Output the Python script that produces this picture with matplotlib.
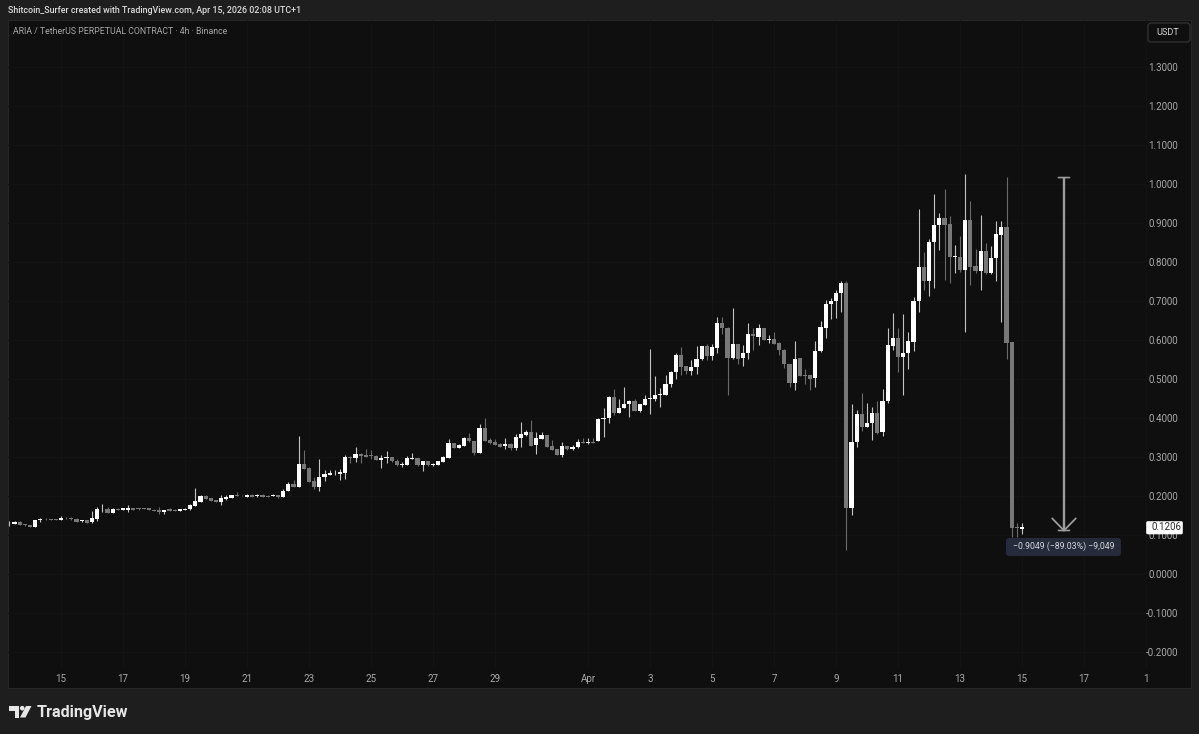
import matplotlib
matplotlib.use('Agg')
import matplotlib.pyplot as plt
import matplotlib.dates as mdates
from matplotlib.patches import FancyBboxPatch, Polygon, Circle, Rectangle
import numpy as np
import pandas as pd

plt.rcParams['font.family'] = ['Roboto', 'DejaVu Sans']

# 4h candles, oldest first
opens = [.1295,.129,.134,.127,.126,.121,.138,.142,.141,.140,.139,.144,.143,.142,.135,.138,.133,.142,.166,.166,
         .156,.167,.164,.164,.169,.169,.169,.168,.165,.163,.159,.167,.165,.162,.165,.166,.175,.185,.201,.194,
         .190,.185,.193,.196,.202,.201,.198,.203,.199,.203,.201,.200,.202,.198,.212,.231,.224,.282,.272,.238,
         .224,.249,.255,.258,.257,.258,.301,.297,.308,.304,.304,.303,.292,.297,.299,.291,.279,.279,.296,.297,
         .280,.289,.279,.280,.287,.297,.336,.323,.329,.350,.341,.309,.375,.343,.338,.334,.328,.334,.322,.350,
         .356,.363,.330,.346,.356,.328,.320,.305,.328,.320,.325,.338,.335,.339,.341,.397,.399,.455,.414,.425,
         .436,.444,.419,.434,.450,.448,.459,.460,.487,.519,.562,.533,.520,.530,.551,.584,.559,.580,.643,.632,
         .553,.590,.553,.566,.615,.608,.630,.601,.603,.593,.575,.538,.489,.553,.509,.509,.502,.572,.631,.692,
         .700,.721,.746,.169,.339,.410,.378,.388,.413,.364,.444,.585,.606,.557,.567,.596,.700,.787,.751,.851,
         .894,.914,.897,.813,.814,.779,.908,.790,.778,.828,.773,.810,.870,.891,.594,.120,.116]
highs = [.136,.135,.135,.127,.126,.139,.144,.143,.142,.140,.149,.145,.147,.143,.139,.139,.162,.172,.180,.171,
         .168,.168,.169,.176,.170,.169,.170,.169,.166,.172,.165,.170,.166,.167,.168,.180,.220,.202,.202,.195,
         .191,.203,.203,.203,.209,.202,.204,.204,.204,.204,.202,.205,.203,.219,.236,.241,.355,.318,.275,.249,
         .296,.267,.266,.267,.269,.305,.302,.325,.310,.320,.318,.304,.305,.315,.300,.296,.288,.302,.310,.298,
         .290,.290,.284,.291,.303,.345,.337,.333,.351,.361,.342,.385,.401,.348,.346,.335,.348,.335,.359,.390,
         .369,.395,.363,.363,.357,.344,.321,.339,.329,.330,.346,.350,.348,.348,.400,.425,.456,.475,.450,.479,
         .446,.448,.437,.459,.576,.508,.476,.509,.521,.566,.583,.534,.549,.585,.585,.591,.591,.658,.658,.633,
         .681,.591,.587,.644,.632,.640,.631,.613,.620,.594,.576,.539,.597,.554,.525,.510,.597,.650,.703,.708,
         .728,.752,.752,.436,.421,.464,.439,.428,.444,.474,.631,.669,.631,.667,.621,.711,.936,.825,.859,.974,
         .926,.987,.918,.844,.867,1.026,.956,.833,.921,.849,.841,.906,.904,1.018,.596,.131,.130]
lows = [.124,.129,.125,.124,.121,.121,.134,.139,.139,.138,.138,.142,.138,.134,.134,.130,.132,.137,.160,.157,
        .156,.165,.163,.160,.164,.165,.166,.163,.161,.155,.155,.162,.162,.162,.165,.165,.175,.185,.192,.187,
        .185,.178,.190,.195,.200,.199,.198,.198,.198,.197,.197,.199,.195,.197,.212,.224,.224,.270,.237,.219,
        .214,.238,.253,.255,.241,.244,.285,.287,.284,.300,.294,.292,.272,.285,.288,.278,.275,.279,.294,.278,
        .265,.278,.278,.279,.287,.297,.322,.322,.328,.339,.306,.309,.341,.334,.331,.325,.320,.319,.318,.326,
        .355,.329,.307,.345,.325,.317,.304,.299,.319,.318,.324,.335,.334,.336,.340,.352,.388,.408,.412,.425,
        .403,.418,.416,.433,.410,.444,.427,.458,.479,.501,.510,.513,.510,.514,.550,.550,.549,.566,.615,.459,
        .552,.538,.534,.552,.574,.586,.599,.593,.589,.561,.527,.480,.472,.507,.487,.473,.480,.570,.605,.653,
        .656,.672,.062,.151,.326,.367,.377,.344,.359,.354,.439,.574,.518,.459,.525,.571,.673,.728,.713,.733,
        .831,.754,.746,.773,.775,.621,.741,.771,.727,.768,.769,.751,.646,.552,.095,.095,.102]
closes = [.1305,.134,.126,.125,.121,.138,.142,.140,.139,.138,.144,.143,.142,.134,.138,.132,.143,.166,.167,.157,
          .167,.165,.168,.168,.164,.166,.166,.163,.162,.158,.164,.162,.162,.166,.167,.177,.186,.201,.192,.188,
          .185,.196,.198,.202,.200,.199,.203,.198,.203,.198,.198,.202,.198,.213,.231,.224,.281,.270,.237,.224,
          .250,.257,.260,.259,.261,.300,.298,.308,.302,.301,.302,.292,.297,.300,.290,.279,.282,.297,.297,.280,
          .289,.279,.283,.290,.299,.336,.323,.331,.349,.340,.309,.375,.341,.335,.332,.326,.333,.322,.352,.358,
          .364,.329,.348,.356,.326,.318,.305,.328,.320,.326,.338,.336,.339,.337,.397,.401,.455,.414,.426,.437,
          .444,.419,.436,.449,.451,.460,.460,.487,.519,.562,.532,.520,.531,.552,.584,.559,.581,.643,.631,.553,
          .590,.552,.566,.615,.609,.630,.600,.602,.590,.574,.538,.489,.552,.508,.508,.501,.572,.633,.692,.700,
          .721,.746,.169,.339,.410,.378,.388,.413,.362,.444,.587,.606,.557,.567,.597,.701,.787,.751,.851,.895,
          .914,.896,.814,.814,.779,.908,.787,.778,.828,.773,.810,.872,.891,.593,.118,.118,.1206]

price_ticks = [-0.2, -0.1, 0.0, 0.1, 0.2, 0.3, 0.4, 0.5, 0.6, 0.7, 0.8, 0.9, 1.0, 1.1, 1.2, 1.3]
day_ticks = ['2026-03-15', '2026-03-17', '2026-03-19', '2026-03-21', '2026-03-23', '2026-03-25',
             '2026-03-27', '2026-03-29', '2026-04-01', '2026-04-03', '2026-04-05', '2026-04-07',
             '2026-04-09', '2026-04-11', '2026-04-13', '2026-04-15', '2026-04-17', '2026-04-19']
day_labels = ['15', '17', '19', '21', '23', '25', '27', '29', 'Apr', '3', '5', '7', '9', '11', '13', '15', '17', '1']

last_price = 0.1206
measure_top = 1.0165
measure_bottom = 0.1116
measure_date = '2026-04-16 08:30'
measure_text = '\u22120.9049 (\u221289.03%) \u22129,049'
title_text = 'Shitcoin_Surfer created with TradingView.com, Apr 15, 2026 02:08 UTC+1'
symbol_text = 'ARIA / TetherUS PERPETUAL CONTRACT \u00b7 4h \u00b7 Binance'

UP = '#ffffff'
DOWN = '#787878'
OUTER = '#1e1e1e'
PANEL = '#0f0f0f'
GRID = '#131313'
LABEL = '#a9a9a9'
MEASURE = '#9c9c9c'

W, H = 1199, 734
fig = plt.figure(figsize=(W / 100, H / 100), dpi=100, facecolor=OUTER)

# full figure layer in pixels for the panel
back = fig.add_axes([0, 0, 1, 1], zorder=0)
back.set_xlim(0, W)
back.set_ylim(H, 0)
back.axis('off')
back.add_patch(Rectangle((8, 20), 1183, 668, facecolor=PANEL, edgecolor='#262626', lw=0.8))

# price axis: 1.3 sits at y=67 and 0.0 at y=574
ax = fig.add_axes([8 / W, 1 - 668 / H, (1147 - 8) / W, (668 - 20) / H], zorder=1)
ax.set_facecolor('none')
dates = pd.date_range(end='2026-04-15 00:00', periods=len(opens), freq='4h')
x = mdates.date2num(dates)
o, h, l, c = map(np.array, (opens, highs, lows, closes))
colors = np.where(c >= o, UP, DOWN)
wick_colors = np.where(c >= o, '#c4c4c4', '#6a6a6a')

ax.vlines(x, l, h, colors=wick_colors, lw=0.8, zorder=2)
ax.bar(x, np.maximum(np.abs(c - o), 0.0018), bottom=np.minimum(o, c), width=0.138, color=colors, lw=0, zorder=3)

x0 = mdates.date2num(pd.Timestamp('2026-03-15'))
ax.set_xlim(x0 - (61 - 8) / 31, x0 + (1147 - 61) / 31)
ax.set_ylim((574 - 668) / 390, (574 - 20) / 390)

ax.set_xticks(mdates.date2num(pd.to_datetime(day_ticks)))
ax.set_xticklabels(day_labels)
ax.set_yticks(price_ticks)
ax.set_yticklabels([f'{p:.4f}' for p in price_ticks])
ax.yaxis.tick_right()
ax.tick_params(axis='x', length=0, labelsize=7, labelcolor=LABEL, pad=4.5)
ax.tick_params(axis='y', length=0, labelsize=7, labelcolor=LABEL, pad=22.3)
for t in ax.get_yticklabels():
    t.set_ha('right')
ax.grid(True, color=GRID, lw=0.8)
ax.set_axisbelow(True)
for s in ax.spines.values():
    s.set_visible(False)

# measure tool
mx = mdates.date2num(pd.Timestamp(measure_date))
ax.plot([mx, mx], [measure_top, measure_bottom], color=MEASURE, lw=1.7, zorder=4, solid_capstyle='butt')
for dx in (-8.5, 8.5):
    ax.annotate('', xy=(mx, measure_bottom), xytext=(dx, 8.7), textcoords='offset points',
                arrowprops=dict(arrowstyle='-', color=MEASURE, lw=1.3, shrinkA=0, shrinkB=0), zorder=4)
for y_cap in (measure_top, measure_bottom):
    for dx in (-4, 4):
        ax.annotate('', xy=(mx, y_cap), xytext=(dx, 0), textcoords='offset points',
                    arrowprops=dict(arrowstyle='-', color=MEASURE, lw=1.2, shrinkA=0, shrinkB=0))

# top layer for labels and logo, also in pixels
top = fig.add_axes([0, 0, 1, 1], zorder=2)
top.set_xlim(0, W)
top.set_ylim(H, 0)
top.axis('off')
top.patch.set_alpha(0)

top.text(8, 10.5, title_text, color='#dcdcdc', fontsize=6.4, fontweight='medium', va='center', ha='left')
top.text(13, 31.5, symbol_text, color='#a6a6a6', fontsize=6.35, va='center', ha='left')

top.add_patch(FancyBboxPatch((1150, 25), 38, 15, boxstyle='round,pad=2,rounding_size=3',
                             facecolor=PANEL, edgecolor='#333333', lw=0.9))
top.text(1168, 32.5, 'USDT', color='#d6d6d6', fontsize=6.6, va='center', ha='center')

top.add_patch(FancyBboxPatch((1147, 522), 35, 11.5, boxstyle='round,pad=0.8,rounding_size=1.5',
                             facecolor='#ffffff', edgecolor='none'))
top.text(1166, 527.5, f'{last_price:.4f}', color='#2a2a2a', fontsize=7, va='center', ha='center')

top.add_patch(FancyBboxPatch((1009, 541), 109, 12, boxstyle='round,pad=3,rounding_size=3',
                             facecolor='#252b3a', edgecolor='none'))
top.text(1064, 546.5, measure_text, color='#d4d6dc', fontsize=6.35, va='center', ha='center')

logo = '#e6e6e6'
top.add_patch(Polygon([(9, 706), (19, 706), (19, 717.5), (14.5, 717.5), (14.5, 710.5), (9, 710.5)], color=logo, lw=0))
top.add_patch(Circle((22.2, 708.2), 2.3, color=logo, lw=0))
top.add_patch(Polygon([(26, 706), (31.5, 706), (25.5, 717.5), (20, 717.5)], color=logo, lw=0))
top.text(36.5, 712, 'TradingView', color=logo, fontsize=11.6, fontweight='bold', va='center', ha='left')

fig.savefig('out.png', dpi=100, facecolor=OUTER)
